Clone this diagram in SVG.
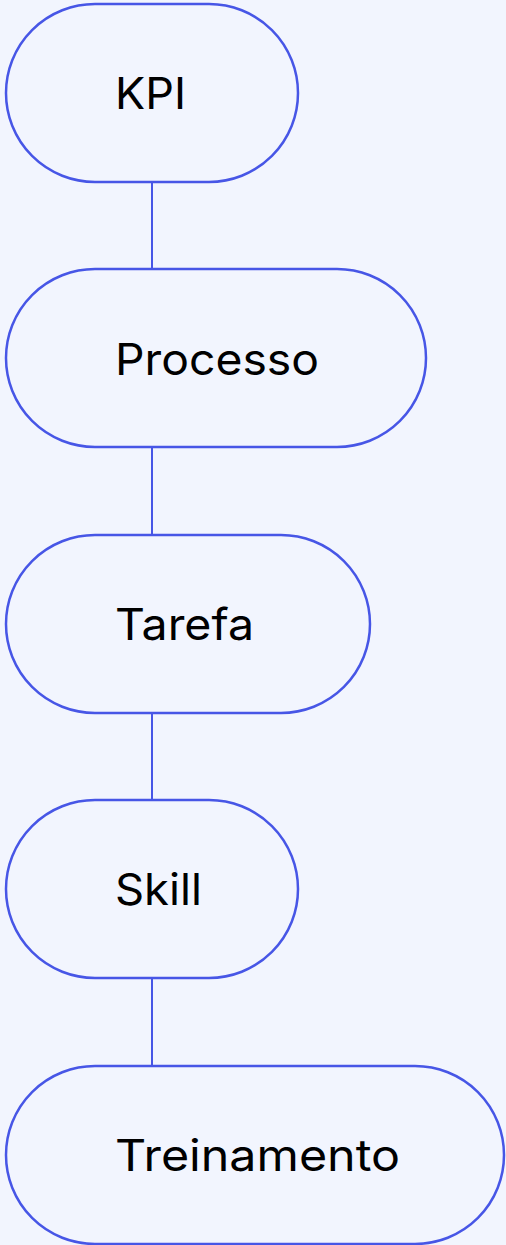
<svg xmlns="http://www.w3.org/2000/svg" width="506" height="1245" viewBox="0 0 506 1245">
<style>
.node rect{fill:#F2F5FE;stroke:#4756E6;stroke-width:2.5}
.node text{font-family:Inter,"Liberation Sans",sans-serif;font-size:44px;fill:#000}
.edge{stroke:#4756E6;stroke-width:2;fill:none}
</style>
<rect width="506" height="1245" fill="#F2F5FE"/>
<g id="connectors">
<line class="edge" x1="152" y1="182" x2="152" y2="269"/>
<line class="edge" x1="152" y1="447" x2="152" y2="535"/>
<line class="edge" x1="152" y1="713" x2="152" y2="800"/>
<line class="edge" x1="152" y1="978" x2="152" y2="1066"/>
</g>
<g id="kpi" class="node"><rect x="6" y="4" width="292" height="178" rx="89"/><text x="115" y="109" textLength="71" lengthAdjust="spacingAndGlyphs">KPI</text></g>
<g id="processo" class="node"><rect x="6" y="269" width="420" height="178" rx="89"/><text x="115" y="375" textLength="204" lengthAdjust="spacingAndGlyphs">Processo</text></g>
<g id="tarefa" class="node"><rect x="6" y="535" width="364" height="178" rx="89"/><text x="115" y="640" textLength="139" lengthAdjust="spacingAndGlyphs">Tarefa</text></g>
<g id="skill" class="node"><rect x="6" y="800" width="292" height="178" rx="89"/><text x="115" y="905" textLength="87" lengthAdjust="spacingAndGlyphs">Skill</text></g>
<g id="treinamento" class="node"><rect x="6" y="1066" width="498" height="178" rx="89"/><text x="115" y="1171" textLength="285" lengthAdjust="spacingAndGlyphs">Treinamento</text></g>
</svg>
